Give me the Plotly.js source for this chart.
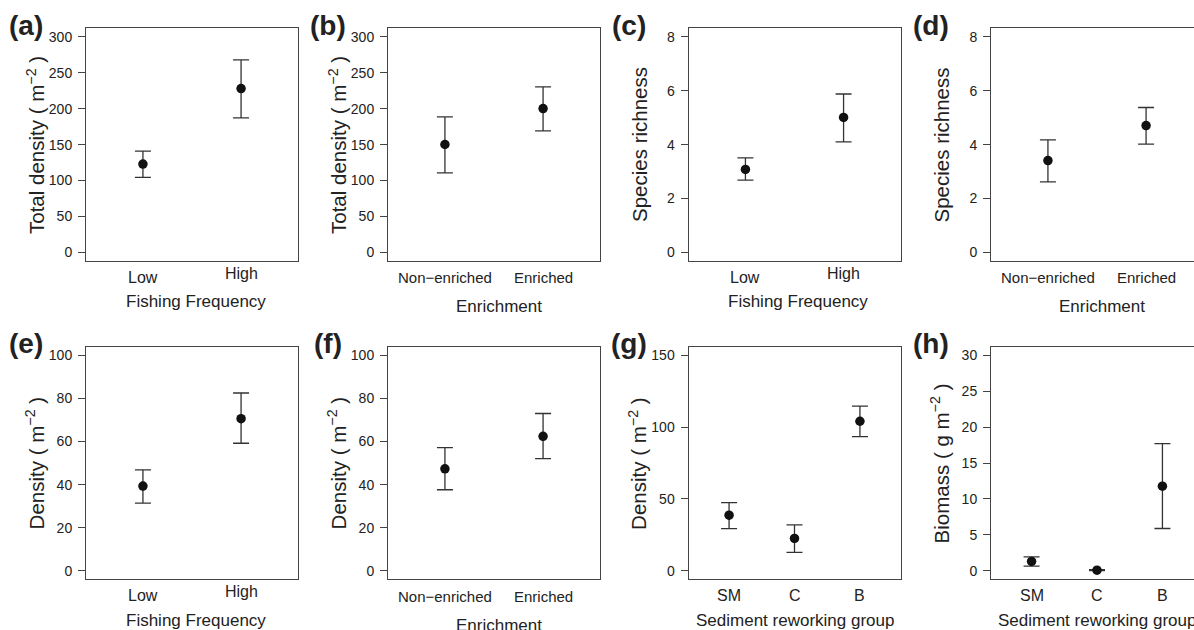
<!DOCTYPE html>
<html>
<head>
<meta charset="utf-8">
<script src="https://cdn.plot.ly/plotly-3.0.1.min.js"></script>
<style>
html,body{margin:0;padding:0;overflow:hidden;background:#fff;}
#chart{width:1210px;height:630px;}
</style>
</head>
<body>
<div id="chart"></div>
<script>
// ---------- data ----------
const fishingCats = ['Low', 'High'];
const enrichCats = ['Non\u2212enriched', 'Enriched'];
const groupCats = ['SM', 'C', 'B'];

// (a) Total density vs fishing frequency
const aMean = [122.9, 228.1];
const aUpper = [141.0, 268.0];
const aLower = [104.3, 187.3];
// (b) Total density vs enrichment
const bMean = [150.2, 200.3];
const bUpper = [188.7, 230.4];
const bLower = [110.8, 169.2];
// (c) Species richness vs fishing frequency
const cMean = [3.08, 5.01];
const cUpper = [3.51, 5.88];
const cLower = [2.68, 4.10];
// (d) Species richness vs enrichment
const dMean = [3.41, 4.71];
const dUpper = [4.18, 5.38];
const dLower = [2.62, 4.02];
// (e) Density vs fishing frequency
const eMean = [39.3, 70.6];
const eUpper = [46.8, 82.5];
const eLower = [31.4, 59.2];
// (f) Density vs enrichment
const fMean = [47.3, 62.4];
const fUpper = [57.2, 73.0];
const fLower = [37.6, 52.1];
// (g) Density by sediment reworking group
const gMean = [38.7, 22.5, 104.1];
const gUpper = [47.5, 32.0, 114.6];
const gLower = [29.4, 12.8, 93.4];
// (h) Biomass by sediment reworking group
const hMean = [1.30, 0.09, 11.78];
const hUpper = [1.95, 0.16, 17.71];
const hLower = [0.65, 0.02, 5.89];

const yTicksA = [0, 50, 100, 150, 200, 250, 300];
const yTicksC = [0, 2, 4, 6, 8];
const yTicksE = [0, 20, 40, 60, 80, 100];
const yTicksG = [0, 50, 100, 150];
const yTicksH = [0, 5, 10, 15, 20, 25, 30];

const titleTotal = 'Total density ( m<sup>\u22122</sup> )';
const titleRich = 'Species richness';
const titleDens = 'Density ( m<sup>\u22122</sup> )';
const titleBio = 'Biomass ( g m<sup>\u22122</sup> )';
const xFish = 'Fishing Frequency';
const xEnrich = 'Enrichment';
const xGroup = 'Sediment reworking group';

// ---------- panel definitions ----------
const panels = [
  {lab:'(a)', cats:fishingCats, mean:aMean, up:aUpper, lo:aLower, ticks:yTicksA, yt:titleTotal, xt:xFish, row:0, col:0},
  {lab:'(b)', cats:enrichCats, mean:bMean, up:bUpper, lo:bLower, ticks:yTicksA, yt:titleTotal, xt:xEnrich, row:0, col:1},
  {lab:'(c)', cats:fishingCats, mean:cMean, up:cUpper, lo:cLower, ticks:yTicksC, yt:titleRich, xt:xFish, row:0, col:2},
  {lab:'(d)', cats:enrichCats, mean:dMean, up:dUpper, lo:dLower, ticks:yTicksC, yt:titleRich, xt:xEnrich, row:0, col:3},
  {lab:'(e)', cats:fishingCats, mean:eMean, up:eUpper, lo:eLower, ticks:yTicksE, yt:titleDens, xt:xFish, row:1, col:0},
  {lab:'(f)', cats:enrichCats, mean:fMean, up:fUpper, lo:fLower, ticks:yTicksE, yt:titleDens, xt:xEnrich, row:1, col:1},
  {lab:'(g)', cats:groupCats, mean:gMean, up:gUpper, lo:gLower, ticks:yTicksG, yt:titleDens, xt:xGroup, row:1, col:2},
  {lab:'(h)', cats:groupCats, mean:hMean, up:hUpper, lo:hLower, ticks:yTicksH, yt:titleBio, xt:xGroup, row:1, col:3}
];

// ---------- geometry (pixels) ----------
const W = 1210, H = 630;
const colLeft = [86, 388, 688.5, 991];
const rowTop = [28.3, 346.7];
const plotW = 212, plotH = 232.7;
const FONT = 'Liberation Sans, Arial, Helvetica, sans-serif';
const px = v => v / W;
const py = v => 1 - v / H;

const data = [];
const layout = {
  width: W, height: H,
  margin: {l: 0, r: 0, t: 0, b: 0},
  paper_bgcolor: '#fff', plot_bgcolor: '#fff',
  showlegend: false,
  font: {family: FONT, color: '#222'},
  annotations: []
};

panels.forEach((p, k) => {
  const n = k + 1;
  const xa = 'xaxis' + (n === 1 ? '' : n), ya = 'yaxis' + (n === 1 ? '' : n);
  const xr = 'x' + (n === 1 ? '' : n), yr = 'y' + (n === 1 ? '' : n);
  const left = colLeft[p.col], top = rowTop[p.row];
  const right = left + plotW, bottom = top + plotH;
  const nc = p.cats.length;
  const tmax = p.ticks[p.ticks.length - 1];
  const ext = 0.04 * tmax;
  const xext = 0.04 * nc;

  data.push({
    type: 'scatter', mode: 'markers',
    x: p.cats.map((c, i) => i + 1), y: p.mean,
    xaxis: xr, yaxis: yr,
    marker: {color: '#111', size: 9.5},
    error_y: {
      type: 'data', symmetric: false,
      array: p.up.map((u, i) => u - p.mean[i]),
      arrayminus: p.lo.map((l, i) => p.mean[i] - l),
      color: '#333', thickness: 1.3, width: 8
    },
    hoverinfo: 'y'
  });

  layout[xa] = {
    domain: [px(left), px(right)], anchor: yr,
    range: [0.5 - xext, nc + 0.5 + xext],
    showgrid: false, zeroline: false, showticklabels: false, ticks: '',
    showline: true, mirror: true, linecolor: '#444', linewidth: 1, fixedrange: true
  };
  layout[ya] = {
    domain: [py(bottom), py(top)], anchor: xr,
    range: [-ext, tmax + ext],
    tickvals: p.ticks, ticktext: p.ticks.map(String),
    ticks: 'outside', ticklen: 7, tickcolor: '#444', tickwidth: 1,
    ticklabelstandoff: 3,
    tickfont: {size: 14, color: '#222', family: FONT},
    showgrid: false, zeroline: false,
    showline: true, mirror: true, linecolor: '#444', linewidth: 1, fixedrange: true
  };

  // category labels (R aligns ink bottoms, so labels with descenders sit higher)
  const catSize = p.cats === enrichCats ? 15 : 16;
  p.cats.forEach((c, i) => {
    const desc = /[gjpqy]/.test(c) ? 4 : 0;
    const base = bottom + 21.8 - desc;
    layout.annotations.push({
      xref: xr, yref: 'paper', x: i + 1, y: py(base - 0.3465 * catSize),
      xanchor: 'center', yanchor: 'middle', showarrow: false,
      text: c, font: {size: catSize, color: '#222', family: FONT}
    });
  });

  // x title
  const xtSize = 17;
  const xtShift = p.xt === xFish ? 4 : (p.xt === xEnrich ? 5 : 0);
  const xtBase = bottom + (p.xt === xEnrich ? 51.5 : 46.5);
  layout.annotations.push({
    xref: 'paper', yref: 'paper', x: px(left + plotW / 2 + xtShift), y: py(xtBase - 0.3465 * xtSize),
    xanchor: 'center', yanchor: 'middle', showarrow: false,
    text: p.xt, font: {size: xtSize, color: '#222', family: FONT}
  });

  // y title (rotated)
  const ytSize = 20.5;
  const ytBase = left - 41;
  layout.annotations.push({
    xref: 'paper', yref: 'paper', x: px(ytBase + 0.212 * ytSize + 1), y: py(top + plotH / 2),
    xanchor: 'right', yanchor: 'middle', textangle: -90, showarrow: false,
    text: p.yt, font: {size: ytSize, color: '#222', family: FONT}
  });

  // panel letter
  const labSize = 28;
  layout.annotations.push({
    xref: 'paper', yref: 'paper', x: px(left - 60), y: py(top + 6.5 - 0.3465 * labSize),
    xanchor: 'center', yanchor: 'middle', showarrow: false,
    text: '<b>' + p.lab + '</b>', font: {size: labSize, color: '#222', family: FONT}
  });
});

Plotly.newPlot('chart', data, layout, {displayModeBar: false, staticPlot: true});
</script>
</body>
</html>
